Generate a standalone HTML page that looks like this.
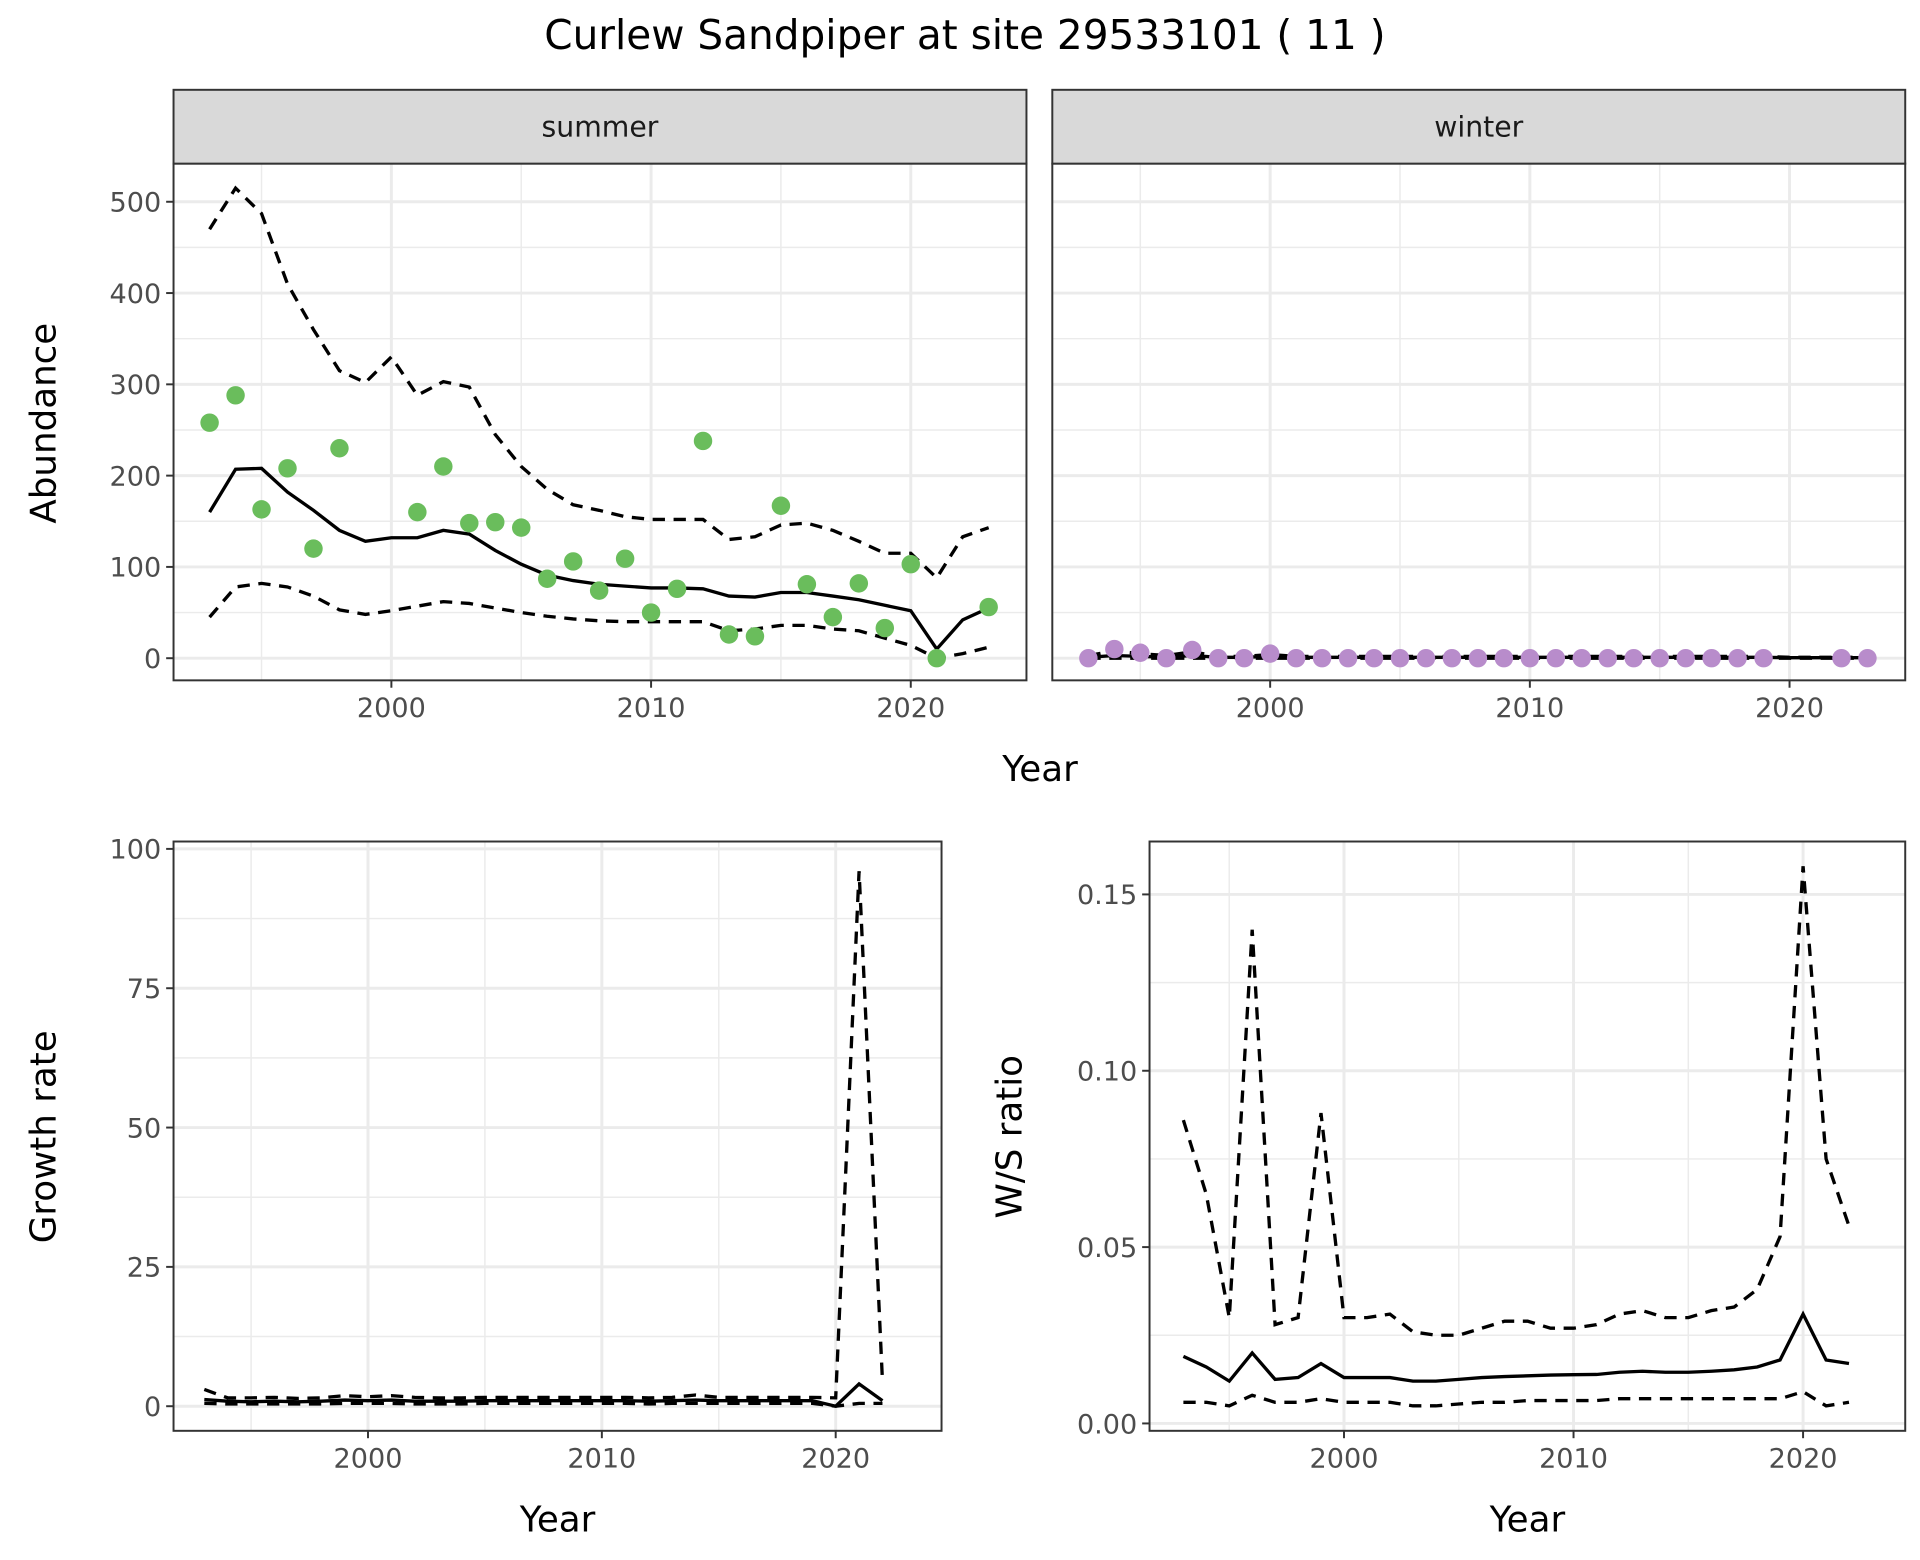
<!DOCTYPE html>
<html><head><meta charset="utf-8"><style>
html,body{margin:0;padding:0;background:#fff;}
svg{display:block;font-family:"DejaVu Sans","Liberation Sans",sans-serif;}
</style></head><body>
<svg id="c" width="1920" height="1560" viewBox="0 0 1560 1268" preserveAspectRatio="none" xmlns="http://www.w3.org/2000/svg">
<rect width="1560" height="1268" fill="#fff"/>
<text x="784" y="40" font-size="33" text-anchor="middle" fill="#000">Curlew Sandpiper at site 29533101 ( 11 )</text>
</svg>
<script>
const yearsA = [1993,1994,1995,1996,1997,1998,1999,2000,2001,2002,2003,2004,2005,2006,2007,2008,2009,2010,2011,2012,2013,2014,2015,2016,2017,2018,2019,2020,2021,2022,2023];
const summerObs = [258,288,163,208,120,230,null,null,160,210,148,149,143,87,106,74,109,50,76,238,26,24,167,81,45,82,33,103,0,null,56];
const summerMean = [160,207,208,182,162,140,128,132,132,140,136,118,103,91,85,81,79,77,77,76,68,67,72,72,68,64,58,52,10,42,55];
const summerUp = [470,515,487,410,360,315,302,330,288,303,297,245,210,185,168,162,155,152,152,152,130,133,146,148,140,128,115,115,88,133,143];
const summerLo = [45,78,82,78,68,53,48,52,57,62,60,55,50,46,43,41,40,40,40,40,30,32,36,36,32,30,22,14,0,5,12];
const winterObs = [0,10,6,0,9,0,0,5,0,0,0,0,0,0,0,0,0,0,0,0,0,0,0,0,0,0,0,null,null,0,0];
const winterMean = [1,3,2,1,3,1,1,2,1,1,1,1,1,1,1,1,1,1,1,1,1,1,1,1,1,1,1,0.5,0.5,0.5,0.5];
const winterUp = [3,8,5,3,7,2,2,4,2,2,2,2,2,2,2,2,2,2,2,2,2,2,2,2,2,2,2,1,1,1,1];
const winterLo = [0,0,0,0,0,0,0,0,0,0,0,0,0,0,0,0,0,0,0,0,0,0,0,0,0,0,0,0,0,0,0];
const yearsB = [1993,1994,1995,1996,1997,1998,1999,2000,2001,2002,2003,2004,2005,2006,2007,2008,2009,2010,2011,2012,2013,2014,2015,2016,2017,2018,2019,2020,2021,2022];
const growthMean = [1.2,0.9,0.8,0.9,0.8,0.9,1.1,1.0,1.1,0.9,0.9,0.9,1.0,1.0,1.0,1.0,1.0,1.0,1.0,0.9,1.0,1.1,1.0,1.0,1.0,1.0,1.0,0.0,4.0,1.0];
const growthUp = [3.0,1.5,1.5,1.6,1.4,1.5,1.9,1.7,1.9,1.6,1.5,1.5,1.6,1.6,1.6,1.6,1.6,1.6,1.6,1.5,1.6,2.0,1.6,1.6,1.6,1.6,1.6,1.5,96,4.5];
const growthLo = [0.5,0.4,0.4,0.4,0.4,0.4,0.5,0.5,0.5,0.4,0.4,0.4,0.5,0.5,0.5,0.5,0.5,0.5,0.5,0.4,0.5,0.5,0.5,0.5,0.5,0.5,0.5,0.0,0.5,0.5];
const ratioMean = [0.019,0.016,0.012,0.020,0.0125,0.013,0.017,0.013,0.013,0.013,0.012,0.012,0.0125,0.013,0.0133,0.0135,0.0137,0.0138,0.0139,0.0145,0.0148,0.0145,0.0145,0.0148,0.0152,0.016,0.018,0.031,0.018,0.017];
const ratioUp = [0.086,0.065,0.030,0.140,0.028,0.030,0.088,0.030,0.030,0.031,0.026,0.025,0.025,0.027,0.029,0.029,0.027,0.027,0.028,0.031,0.032,0.030,0.030,0.032,0.033,0.038,0.053,0.158,0.075,0.056];
const ratioLo = [0.006,0.006,0.005,0.008,0.006,0.006,0.007,0.006,0.006,0.006,0.005,0.005,0.0055,0.006,0.006,0.0065,0.0065,0.0065,0.0065,0.007,0.007,0.007,0.007,0.007,0.007,0.007,0.007,0.009,0.005,0.006];
const xTicks = [2000,2010,2020];
const xMinor = [1995,2005,2015];
const abTicks = [0,100,200,300,400,500];
const grTicks = [0,25,50,75,100];
const raTicks = [0,0.05,0.1,0.15];
const raLabels = ['0.00','0.05','0.10','0.15'];

const svg = document.getElementById('c');
const NS = 'http://www.w3.org/2000/svg';
function mk(tag, attrs, parent){const e=document.createElementNS(NS,tag);for(const k in attrs)e.setAttribute(k,attrs[k]);(parent||svg).appendChild(e);return e;}
function lin(d0,d1,r0,r1){return v=>r0+(v-d0)/(d1-d0)*(r1-r0);}

function panel(p){
  const g = mk('g',{});
  
  
  mk('rect',{x:p.x0,y:p.y0,width:p.x1-p.x0,height:p.y1-p.y0,fill:'#fff'},g);
  p.xMinor.forEach(v=>mk('line',{x1:p.sx(v),x2:p.sx(v),y1:p.y0,y2:p.y1,stroke:'#ebebeb','stroke-width':1.2},g));
  p.yMinor.forEach(v=>mk('line',{x1:p.x0,x2:p.x1,y1:p.sy(v),y2:p.sy(v),stroke:'#ebebeb','stroke-width':1.2},g));
  p.xTicks.forEach(v=>mk('line',{x1:p.sx(v),x2:p.sx(v),y1:p.y0,y2:p.y1,stroke:'#ebebeb','stroke-width':2.4},g));
  p.yTicks.forEach(v=>mk('line',{x1:p.x0,x2:p.x1,y1:p.sy(v),y2:p.sy(v),stroke:'#ebebeb','stroke-width':2.4},g));
  p.xTicks.forEach(v=>{
    mk('line',{x1:p.sx(v),x2:p.sx(v),y1:p.y1,y2:p.y1+6,stroke:'#333','stroke-width':1.6},g);
    const t=mk('text',{x:p.sx(v),y:p.y1+30,'font-size':22,'text-anchor':'middle',fill:'#4d4d4d'},g);t.textContent=v;
    
    
  });
  if(p.showY) p.yTicks.forEach((v,i)=>{
    mk('line',{x1:p.x0-6,x2:p.x0,y1:p.sy(v),y2:p.sy(v),stroke:'#333','stroke-width':1.6},g);
    const t=mk('text',{x:p.x0-10,y:p.sy(v)+8,'font-size':22,'text-anchor':'end',fill:'#4d4d4d'},g);t.textContent=p.yLabels?p.yLabels[i]:v;
    
    
  });
  function line(years,vals,dash,nm){
    let d='',pen=false;
    vals.forEach((v,i)=>{if(v==null){pen=false;return;}d+=(pen?'L':'M')+p.sx(years[i]).toFixed(1)+','+p.sy(v).toFixed(1);pen=true;});
    const e=mk('path',{d:d,fill:'none',stroke:'#000','stroke-width':2.7,'stroke-dasharray':dash?'10,7':'none'},g);
    
    
  }
  line(p.years,p.up,true,'upper-bound-line');
  line(p.years,p.lo,true,'lower-bound-line');
  line(p.years,p.mean,false,'mean-line');
  if(p.obs) p.obs.forEach((v,i)=>{if(v==null)return;
    const c=mk('circle',{cx:p.sx(p.years[i]),cy:p.sy(v),r:7.5,fill:p.col},g);
    
    
  });
  mk('rect',{x:p.x0,y:p.y0,width:p.x1-p.x0,height:p.y1-p.y0,fill:'none',stroke:'#333','stroke-width':1.6},g);
  if(p.strip){
    const s=mk('rect',{x:p.x0,y:p.y0-60,width:p.x1-p.x0,height:60,fill:'#d9d9d9',stroke:'#333','stroke-width':1.6},g);
    
    
    const t=mk('text',{x:(p.x0+p.x1)/2,y:p.y0-22,'font-size':23,'text-anchor':'middle',fill:'#1a1a1a'},g);t.textContent=p.strip;
    
    
  }
}
const sxS=lin(2000,2020,318,740), sxW=lin(2000,2020,1032,1454), syA=lin(0,500,535,164);
const abMinor=[50,150,250,350,450];
panel({name:'summer-panel',x0:141,x1:834,y0:133,y1:553,sx:sxS,sy:syA,xTicks,xMinor,yTicks:abTicks,yMinor:abMinor,showY:true,years:yearsA,mean:summerMean,up:summerUp,lo:summerLo,obs:summerObs,col:'#6abd5c',strip:'summer'});
panel({name:'winter-panel',x0:855,x1:1548,y0:133,y1:553,sx:sxW,sy:syA,xTicks,xMinor,yTicks:abTicks,yMinor:abMinor,showY:false,years:yearsA,mean:winterMean,up:winterUp,lo:winterLo,obs:winterObs,col:'#b88ccb',strip:'winter'});
panel({name:'growth-panel',x0:141,x1:765,y0:684,y1:1163,sx:lin(2000,2020,299,679),sy:lin(0,100,1143,690),xTicks,xMinor,yTicks:grTicks,yMinor:[12.5,37.5,62.5,87.5],showY:true,years:yearsB,mean:growthMean,up:growthUp,lo:growthLo});
panel({name:'ratio-panel',x0:934,x1:1548,y0:684,y1:1163,sx:lin(2000,2020,1092,1465),sy:lin(0,0.15,1157,727),xTicks,xMinor,yTicks:raTicks,yLabels:raLabels,yMinor:[0.025,0.075,0.125],showY:true,years:yearsB,mean:ratioMean,up:ratioUp,lo:ratioLo});
function txt(s,x,y,rot,nm){const t=mk('text',{x:x,y:y,'font-size':29,'text-anchor':'middle',fill:'#000',transform:rot?`rotate(-90 ${x} ${y})`:''});t.textContent=s;
  
  }
txt('Year',845,635,false,'x-axis-title-top');
txt('Abundance',45,344,true,'y-axis-title-abundance');
txt('Year',453,1245,false,'x-axis-title-growth');
txt('Growth rate',45,924,true,'y-axis-title-growth');
txt('Year',1241,1245,false,'x-axis-title-ratio');
txt('W/S ratio',830,924,true,'y-axis-title-ratio');
</script>
</body></html>
